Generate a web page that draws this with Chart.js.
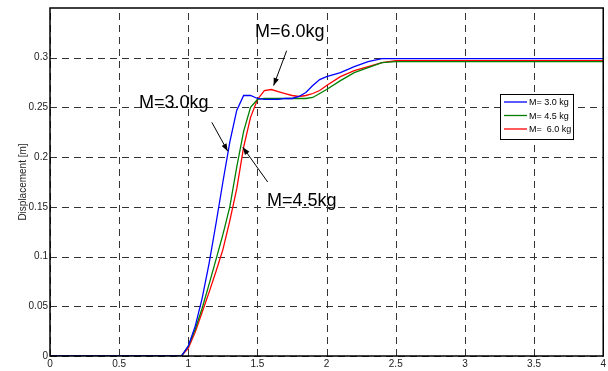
<!DOCTYPE html>
<html>
<head>
<meta charset="utf-8">
<script src="https://cdn.jsdelivr.net/npm/chart.js@4"></script>
<style>
  html, body { margin: 0; padding: 0; background: #fff; }
  #wrap { width: 608px; height: 371px; }
</style>
</head>
<body>
<div id="wrap"><canvas id="chart" width="608" height="371"></canvas></div>
<script>
// time samples [s]
var timeValues = [0, 0.9, 0.95, 1.0, 1.05, 1.1, 1.15, 1.2, 1.25, 1.3, 1.35, 1.4, 1.45, 1.5, 1.55, 1.6, 1.65, 1.7, 1.75, 1.8, 1.85, 1.9, 1.95, 2.0, 2.1, 2.2, 2.3, 2.4, 2.5, 3, 4];

// displacement [m] for each mass
var disp30 = [0, 0, 0, 0.010, 0.030, 0.058, 0.093, 0.133, 0.175, 0.215, 0.247, 0.262, 0.262, 0.259, 0.258, 0.258, 0.258, 0.259, 0.259, 0.261, 0.265, 0.272, 0.278, 0.281, 0.285, 0.291, 0.296, 0.299, 0.299, 0.299, 0.299];
var disp45 = [0, 0, 0, 0.010, 0.027, 0.048, 0.072, 0.097, 0.122, 0.150, 0.190, 0.226, 0.250, 0.258, 0.259, 0.259, 0.259, 0.259, 0.259, 0.259, 0.259, 0.260, 0.264, 0.268, 0.277, 0.285, 0.290, 0.295, 0.296, 0.296, 0.296];
var disp60 = [0, 0, 0, 0.008, 0.024, 0.044, 0.064, 0.085, 0.107, 0.136, 0.168, 0.210, 0.240, 0.258, 0.267, 0.268, 0.266, 0.264, 0.262, 0.261, 0.262, 0.264, 0.267, 0.272, 0.281, 0.287, 0.291, 0.295, 0.297, 0.297, 0.297];

var seriesLabels = ['M= 3.0 kg', 'M= 4.5 kg', 'M=  6.0 kg'];
var seriesColors = ['#0000ff', '#008000', '#ff0000'];

var xTicks = [0, 0.5, 1, 1.5, 2, 2.5, 3, 3.5, 4];
var yTicks = [0, 0.05, 0.1, 0.15, 0.2, 0.25, 0.3];

// callout text + arrow (data coords)
var callouts = [
    { text: 'M=6.0kg', tx: 1.733, ty: 0.326, x0: 1.711, y0: 0.307, x1: 1.617, y1: 0.272 },
    { text: 'M=3.0kg', tx: 0.895, ty: 0.254, x0: 1.170, y0: 0.235, x1: 1.285, y1: 0.206 },
    { text: 'M=4.5kg', tx: 1.820, ty: 0.156, x0: 1.574, y0: 0.175, x1: 1.394, y1: 0.210 }
];

function toPoints(ys) {
    return timeValues.map(function(t, i) { return { x: t, y: ys[i] }; });
}

var allSeries = [disp30, disp45, disp60];
var datasets = allSeries.map(function(ys, i) {
    return {
        label: seriesLabels[i],
        data: toPoints(ys),
        borderColor: seriesColors[i],
        backgroundColor: seriesColors[i],
        borderWidth: 1.3,
        pointRadius: 0,
        tension: 0,
        fill: false
    };
});

// frame, callouts and legend box
var extrasPlugin = {
    id: 'extras',
    afterDraw: function(chart) {
        var ctx = chart.ctx;
        var a = chart.chartArea;
        var xs = chart.scales.x, ys = chart.scales.y;
        ctx.save();
        ctx.strokeStyle = '#000';
        ctx.lineWidth = 1.5;
        ctx.setLineDash([]);
        ctx.strokeRect(a.left, a.top, a.right - a.left, a.bottom - a.top);

        // callouts
        ctx.font = '18px "Liberation Sans", Arial, sans-serif';
        ctx.fillStyle = '#000';
        ctx.textAlign = 'center';
        ctx.textBaseline = 'middle';
        callouts.forEach(function(c) {
            ctx.fillText(c.text, xs.getPixelForValue(c.tx), ys.getPixelForValue(c.ty));
            var px0 = xs.getPixelForValue(c.x0), py0 = ys.getPixelForValue(c.y0);
            var px1 = xs.getPixelForValue(c.x1), py1 = ys.getPixelForValue(c.y1);
            ctx.lineWidth = 1;
            ctx.beginPath();
            ctx.moveTo(px0, py0);
            ctx.lineTo(px1, py1);
            ctx.stroke();
            var ang = Math.atan2(py1 - py0, px1 - px0);
            var len = 8, w = 0.35;
            ctx.beginPath();
            ctx.moveTo(px1, py1);
            ctx.lineTo(px1 - len * Math.cos(ang - w), py1 - len * Math.sin(ang - w));
            ctx.lineTo(px1 - len * Math.cos(ang + w), py1 - len * Math.sin(ang + w));
            ctx.closePath();
            ctx.fill();
        });

        // legend box
        var bx = 500, by = 94, bw = 73, bh = 45;
        ctx.fillStyle = '#fff';
        ctx.fillRect(bx, by, bw, bh);
        ctx.strokeStyle = '#000';
        ctx.lineWidth = 1;
        ctx.strokeRect(bx + 0.5, by + 0.5, bw, bh);
        ctx.font = '9px "Liberation Sans", Arial, sans-serif';
        ctx.textAlign = 'left';
        for (var i = 0; i < seriesLabels.length; i++) {
            var ry = by + 8 + i * 13.5;
            ctx.strokeStyle = seriesColors[i];
            ctx.lineWidth = 1.3;
            ctx.beginPath();
            ctx.moveTo(bx + 4, ry);
            ctx.lineTo(bx + 27, ry);
            ctx.stroke();
            ctx.fillStyle = '#000';
            ctx.fillText(seriesLabels[i], bx + 29, ry + 1);
        }
        ctx.restore();
    }
};

// dashed grid drawn by hand so dash pattern matches
var gridPlugin = {
    id: 'dashgrid',
    beforeDatasetsDraw: function(chart) {
        var ctx = chart.ctx;
        var a = chart.chartArea;
        var xs = chart.scales.x, ys = chart.scales.y;
        ctx.save();
        ctx.strokeStyle = '#333';
        ctx.lineWidth = 1;
        ctx.setLineDash([7, 5]);
        xTicks.forEach(function(v) {
            var p = Math.round(xs.getPixelForValue(v)) + 0.5;
            ctx.beginPath();
            ctx.moveTo(p, a.bottom);
            ctx.lineTo(p, a.top);
            ctx.stroke();
        });
        yTicks.forEach(function(v) {
            var p = Math.round(ys.getPixelForValue(v)) + 0.5;
            ctx.beginPath();
            ctx.moveTo(a.left, p);
            ctx.lineTo(a.right, p);
            ctx.stroke();
        });
        ctx.restore();
    }
};

var ctx = document.getElementById('chart');
var myChart = new Chart(ctx, {
    type: 'line',
    data: { datasets: datasets },
    options: {
        responsive: false,
        animation: false,
        layout: { padding: { left: 0, right: 4, top: 8, bottom: 0 } },
        plugins: {
            legend: { display: false },
            tooltip: { enabled: false }
        },
        scales: {
            x: {
                type: 'linear',
                min: 0,
                max: 4,
                afterFit: function(s) { s.height = 15; },
                afterBuildTicks: function(s) { s.ticks = xTicks.map(function(v) { return { value: v }; }); },
                grid: { display: false, drawTicks: false },
                border: { display: false },
                ticks: {
                    color: '#222',
                    padding: 2,
                    maxRotation: 0,
                    font: { family: '"Liberation Sans", Arial, sans-serif', size: 10 },
                    callback: function(v) { return String(v); }
                }
            },
            y: {
                min: 0,
                max: 0.35,
                afterFit: function(s) { s.width = 50; },
                afterBuildTicks: function(s) { s.ticks = yTicks.map(function(v) { return { value: v }; }); },
                grid: { display: false, drawTicks: false },
                border: { display: false },
                title: {
                    display: true,
                    text: 'Displacement [m]',
                    color: '#222',
                    padding: { top: 17, bottom: 0 },
                    font: { family: '"Liberation Sans", Arial, sans-serif', size: 10 }
                },
                ticks: {
                    color: '#222',
                    padding: 2,
                    font: { family: '"Liberation Sans", Arial, sans-serif', size: 10 },
                    callback: function(v) { return String(Math.round(v * 100) / 100); }
                }
            }
        }
    },
    plugins: [gridPlugin, extrasPlugin]
});
</script>
</body>
</html>
